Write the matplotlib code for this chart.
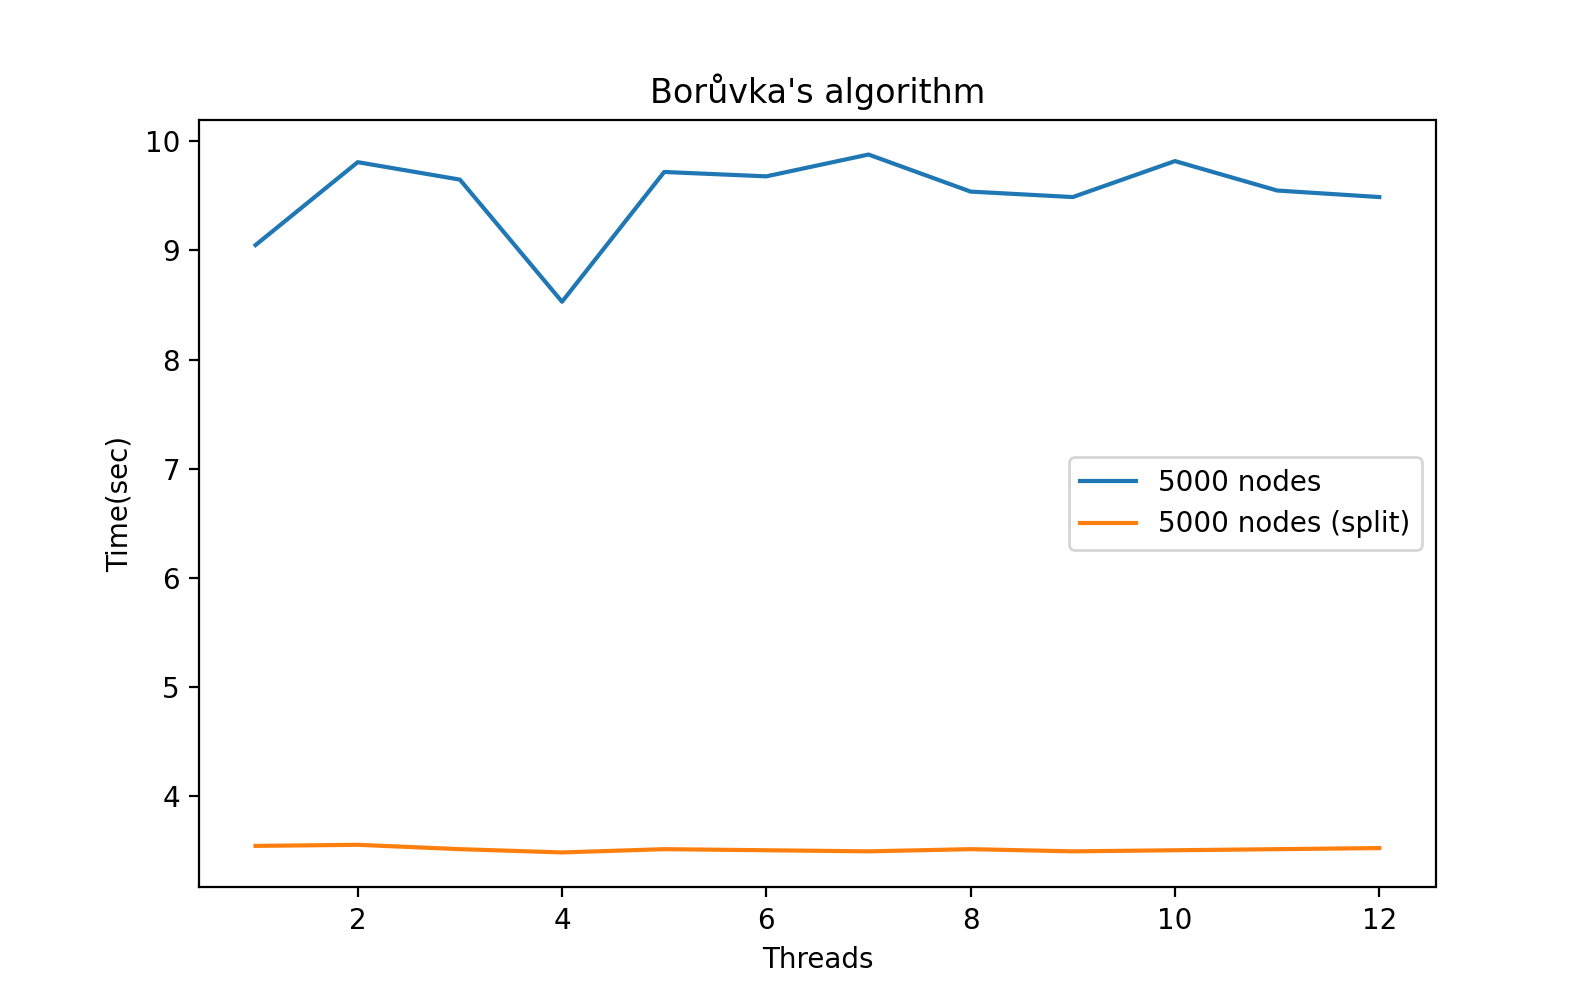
import matplotlib
matplotlib.use("Agg")
import matplotlib.pyplot as plt

threads = list(range(1, 13))
time_full = [9.05, 9.81, 9.65, 8.53, 9.72, 9.68, 9.88, 9.54, 9.49, 9.82, 9.55, 9.49]
time_split = [3.54, 3.55, 3.51, 3.48, 3.51, 3.50, 3.49, 3.51, 3.49, 3.50, 3.51, 3.52]

fig, ax = plt.subplots(figsize=(7.975, 4.985), dpi=200)
ax.plot(threads, time_full, label="5000 nodes")
ax.plot(threads, time_split, label="5000 nodes (split)")
ax.set_title("Borůvka's algorithm")
ax.set_xlabel("Threads")
ax.set_ylabel("Time(sec)")
ax.legend(loc="center right")

fig.savefig("out.png", dpi=200)
